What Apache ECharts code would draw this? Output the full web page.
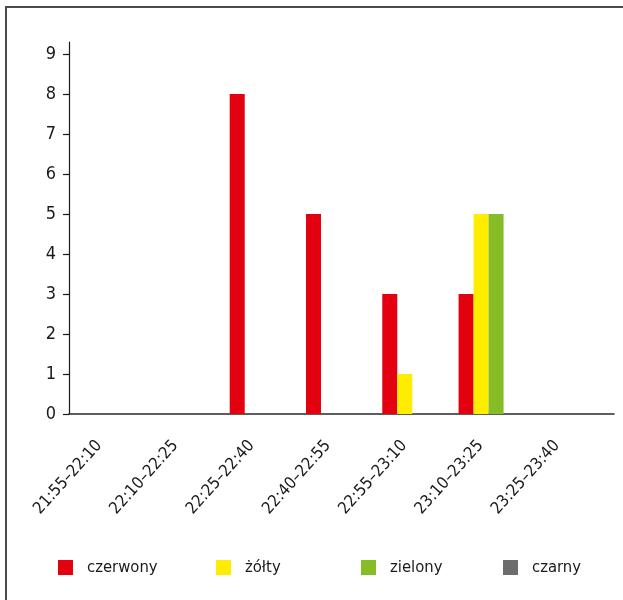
<!DOCTYPE html>
<html>
<head>
<meta charset="utf-8">
<script src="https://cdn.jsdelivr.net/npm/echarts@6/dist/echarts.min.js"></script>
<style>
  html, body { margin: 0; padding: 0; background: #ffffff; }
  #frame {
    position: absolute; left: 5px; top: 6px; width: 700px; height: 700px;
    border-left: 2px solid #4a4a4a; border-top: 2px solid #4a4a4a;
  }
  #chart { position: absolute; left: 0; top: 0; width: 623px; height: 600px; }
</style>
</head>
<body>
<div id="frame"></div>
<div id="chart"></div>
<script>
// Time windows on the category axis
const categories = ['21:55–22:10', '22:10–22:25', '22:25–22:40', '22:40–22:55', '22:55–23:10', '23:10–23:25', '23:25–23:40'];

// Counts per colour
const czerwony = [0, 0, 8, 5, 3, 3, 0];
const zolty    = [0, 0, 0, 0, 1, 5, 0];
const zielony  = [0, 0, 0, 0, 0, 5, 0];
const czarny   = [0, 0, 0, 0, 0, 0, 0];

const seriesNames = ['czerwony', 'żółty', 'zielony', 'czarny'];
const yTicks = [0, 1, 2, 3, 4, 5, 6, 7, 8, 9];

const colors = ['#e3000f', '#ffed00', '#86bc25', '#6d6d6d'];
const FONT = "'Liberation Sans Narrow', 'DejaVu Sans Condensed', 'Arial Narrow', sans-serif";
const values = [czerwony, zolty, zielony, czarny];

const chart = echarts.init(document.getElementById('chart'), null, { renderer: 'canvas' });

const legendLefts = [58, 216, 361, 503];

const option = {
  backgroundColor: 'transparent',
  animation: false,
  textStyle: { fontFamily: FONT },
  grid: [
    { left: 69, right: 20, top: 42, bottom: 186 },
    { left: 69, right: 9, top: 42, bottom: 186 }
  ],
  legend: seriesNames.map((n, i) => ({
    data: [n],
    left: legendLefts[i],
    top: 559,
    padding: 0,
    itemWidth: 15,
    itemHeight: 15,
    icon: 'rect',
    selectedMode: false,
    textStyle: { fontFamily: FONT, fontSize: 16.5, color: '#1a1a1a', padding: [0, 0, 0, 9] }
  })),
  xAxis: [
    {
      type: 'category',
      gridIndex: 0,
      data: categories,
      axisLine: { show: false },
      axisTick: { show: false },
      axisLabel: {
        rotate: 48,
        margin: 20,
        interval: 0,
        padding: [0, 12, 0, 0],
        fontFamily: FONT,
        fontSize: 16.5,
        color: '#1a1a1a'
      }
    },
    {
      type: 'value',
      gridIndex: 1,
      min: 0,
      max: 1,
      axisLine: { show: true, onZero: false, lineStyle: { color: '#2a2a2a', width: 1.6 } },
      axisTick: { show: false },
      axisLabel: { show: false },
      splitLine: { show: false }
    }
  ],
  yAxis: [
    {
      type: 'value',
      gridIndex: 0,
      min: 0,
      max: 9.3,
      interval: 1,
      axisLine: { show: true, lineStyle: { color: '#1a1a1a', width: 1.2 } },
      axisTick: { show: true, length: 6, customValues: yTicks, lineStyle: { color: '#1a1a1a', width: 1.2 } },
      axisLabel: { customValues: yTicks, margin: 13, fontFamily: FONT, fontSize: 18, color: '#1a1a1a' },
      splitLine: { show: false }
    },
    { type: 'value', gridIndex: 1, min: 0, max: 1, show: false }
  ],
  series: seriesNames.map((n, i) => ({
    name: n,
    type: 'bar',
    xAxisIndex: 0,
    yAxisIndex: 0,
    data: values[i],
    barWidth: 15,
    barGap: '0%',
    itemStyle: { color: colors[i] }
  }))
};

chart.setOption(option);
</script>
</body>
</html>
